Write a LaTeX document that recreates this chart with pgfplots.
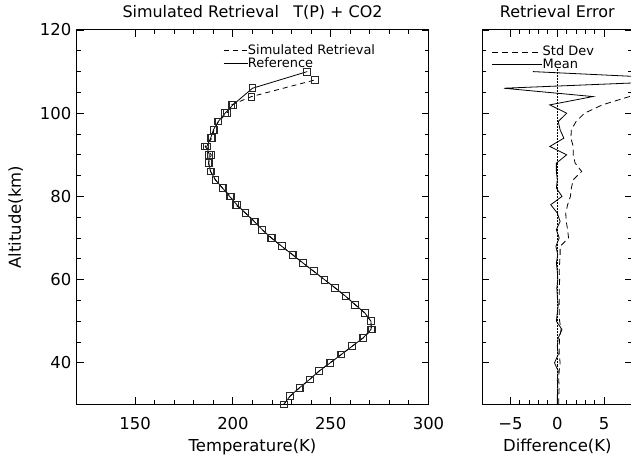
\documentclass[border=0pt]{standalone}
\usepackage{fontspec}
\setmainfont{DejaVu Sans}
\usepackage{pgfplots}
\pgfplotsset{compat=1.18}
\pgfplotstableread{
z T
30 226.0
32 229.2
34 234.0
36 239.2
38 244.0
40 249.8
42 255.4
44 261.0
46 266.6
48 270.6
50 270.6
52 267.4
54 262.4
56 257.6
58 252.3
60 246.8
62 241.3
64 235.8
66 230.4
68 225.0
70 219.6
72 215.0
74 210.8
76 206.4
78 202.0
80 198.3
82 194.7
84 191.0
86 188.6
88 187.6
90 187.9
92 186.6
94 188.6
96 190.0
98 192.5
100 196.0
102 200.0
106 210.0
110 238.0
}\refdata
\pgfplotstableread{
z T
30 226.0
32 229.3
34 234.1
36 239.2
38 244.1
40 249.6
42 255.5
44 261.0
46 266.7
48 271.0
50 270.5
52 267.4
54 262.5
56 257.6
58 252.2
60 246.8
62 241.3
64 235.7
66 230.5
68 224.9
70 219.8
72 214.9
74 211.1
76 206.4
78 201.3
80 198.8
82 194.6
84 191.0
86 188.5
88 187.5
90 188.9
92 185.8
94 189.3
96 190.3
98 192.6
100 197.0
102 199.2
104 209.5
108 242.0
}\simdata
\pgfplotstableread{
z d
30 0.0
32 0.0
34 0.05
36 0.0
38 0.1
40 -0.3
42 0.1
44 0.0
46 0.1
48 0.5
50 -0.1
52 0.0
54 0.1
56 0.0
58 -0.05
60 0.05
62 0.0
64 -0.1
66 0.05
68 -0.15
70 0.2
72 -0.1
74 0.3
76 0.0
78 -0.7
80 0.5
82 -0.1
84 0.0
86 -0.1
88 -0.1
90 1.0
92 -0.8
94 0.7
96 0.3
98 0.1
100 1.0
102 -0.8
104 3.8
106 -5.7
108 16.0
110 -2.6
}\meandata
\pgfplotstableread{
z s
30 0.15
32 0.15
34 0.2
36 0.15
38 0.2
40 0.3
42 0.2
44 0.2
46 0.25
48 0.4
50 0.25
52 0.2
54 0.2
56 0.2
58 0.2
60 0.25
62 0.2
64 0.25
66 0.3
68 0.3
70 1.2
72 1.1
74 0.95
76 0.9
78 1.1
80 1.4
82 1.5
84 1.7
86 2.6
88 1.9
90 1.7
92 1.7
94 1.45
96 1.5
98 2.0
100 2.9
102 4.8
104 7.7
106 12.0
108 15.0
110 14.0
}\stddata
\begin{document}
\begin{tikzpicture}
\pgfplotsset{
  every axis/.append style={
    scale only axis,
    axis line style={line width=1bp, black},
    every tick/.style={line width=0.9bp, black},
    major tick length=7bp, minor tick length=4bp,
    tick align=inside,
    font=\fontsize{16.5}{19}\selectfont,
    /pgf/number format/assume math mode=true,
    ymin=30, ymax=120, ytick={40,60,80,100,120}, minor y tick num=3,
    xticklabel style={anchor=base, yshift=-25bp},
    yticklabel style={inner sep=5bp},
    title style={at={(axis description cs:0.5,1.018)}, anchor=base, font=\fontsize{16}{19}\selectfont},
    xlabel style={at={(axis description cs:0.5,-0.127)}, anchor=base},
    legend cell align=left,
  }
}
\begin{axis}[
  at={(76.5bp,53.6bp)}, anchor=south west,
  width=352bp, height=374.4bp,
  xmin=120, xmax=300, xtick={150,200,250,300}, minor x tick num=4,
  xlabel={Temperature(K)},
  ylabel={Altitude(km)},
  ylabel style={at={(axis description cs:-0.158,0.5)}, anchor=base, rotate=0},
  title={Simulated Retrieval\hspace{0.9em}T(P) + CO2},
  legend image code/.code={\draw[#1] (0bp,0bp) -- (24bp,0bp);},
  legend style={draw=none, fill=none, inner sep=0pt, at={(axis description cs:0.416,0.962)}, anchor=north west,
    font=\fontsize{13}{14}\selectfont, nodes={inner sep=0pt, text height=9.8bp, text depth=3bp},
    /tikz/every even column/.style={column sep=1bp}},
]
\addlegendimage{black, line width=0.8bp, dash pattern=on 5bp off 4bp}
\addlegendimage{black, line width=0.8bp}
\addplot[black, line width=0.8bp, dash pattern=on 5bp off 4bp, mark=square, mark size=3.4bp, mark options={solid, line width=0.85bp, draw=black!85}] table[x=T, y=z] {\simdata};
\addplot[black, line width=0.8bp, mark=square, mark size=3.4bp, mark options={solid, line width=0.85bp, draw=black!85}] table[x=T, y=z] {\refdata};
\legend{Simulated Retrieval, Reference}
\end{axis}
\begin{axis}[
  at={(482.3bp,53.6bp)}, anchor=south west,
  width=150bp, height=374.4bp,
  xmin=-8, xmax=8, xtick={-5,0,5}, xticklabels={−5,0,5}, minor x tick num=4,
  yticklabels={},
  xlabel={Difference(K)},
  title={Retrieval Error},
  legend image code/.code={\draw[#1] (0bp,0bp) -- (50bp,0bp);},
  legend style={draw=none, fill=none, inner sep=0pt, at={(axis description cs:0.0627,0.959)}, anchor=north west,
    font=\fontsize{13}{14}\selectfont, nodes={inner sep=0pt, text height=9.8bp, text depth=3bp},
    /tikz/every even column/.style={column sep=1bp}},
]
\addlegendimage{black, line width=0.8bp, dash pattern=on 6bp off 4bp}
\addlegendimage{black, line width=0.8bp}
\addplot[black, line width=0.5bp, densely dotted] coordinates {(0,30) (0,111)};
\addplot[black, line width=0.8bp, dash pattern=on 6bp off 4bp] table[x=s, y=z] {\stddata};
\addplot[black, line width=0.8bp] table[x=d, y=z] {\meandata};
\legend{Std Dev, Mean}
\end{axis}
\pgfresetboundingbox
\path (0bp,0bp) rectangle (631bp,458bp);
\end{tikzpicture}
\end{document}
